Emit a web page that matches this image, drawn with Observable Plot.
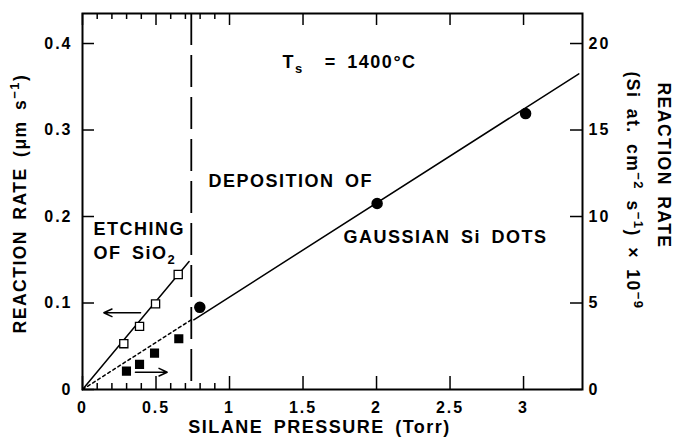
<!DOCTYPE html>
<html><head><meta charset="utf-8">
<script src="https://cdn.jsdelivr.net/npm/d3@7"></script>
<script src="https://cdn.jsdelivr.net/npm/@observablehq/plot@0.6"></script>
<style>
body{margin:0;background:#fff;}
svg{display:block}
svg text{font-family:"Liberation Sans",Arial,Helvetica,sans-serif;font-weight:bold;letter-spacing:1.5px;word-spacing:4px;fill:#000}
g[aria-label$="tick label"]{font-size:16px}
g[aria-label$="tick label"] text{letter-spacing:2px}
</style></head><body><div id="chart"></div>
<script>
// ---- data ----
const xTicks = [0, 0.5, 1, 1.5, 2, 2.5, 3];
const xMinorTicks = [0.1, 0.2, 0.3, 0.4, 0.6, 0.7, 0.8, 0.9];
const yTicks = [0, 0.1, 0.2, 0.3, 0.4];          // left axis, µm s^-1
const rightFactor = 50;                           // right axis value = left * 50 (×10^9 Si at. cm^-2 s^-1)

// etching of SiO2 (open squares, left axis)
const etchP = [0.281, 0.388, 0.497, 0.651];
const etchRate = [0.053, 0.073, 0.099, 0.133];
// filled squares (right axis units)
const fillP = [0.299, 0.388, 0.49, 0.655];
const fillRate = [1.06, 1.45, 2.10, 2.93];
// deposition of Gaussian Si dots (filled circles, left axis)
const depP = [0.798, 2.004, 3.014];
const depRate = [0.095, 0.215, 0.319];
// fitted lines
const etchFitP = [0, 0.725], etchFitRate = [0, 0.148];
const dotFitP = [0, 0.74], dotFitRate = [0, 0.0806];
const depFitP = [0.757, 3.376], depFitRate = [0.0806, 0.365];
const boundaryP = [0.74];
// arrows
const arrowFromP = [0.395, 0.36], arrowToP = [0.145, 0.576], arrowRate = [0.0887, 0.020];
// annotation texts and their anchor values
const noteText = ["T_{s}  = 1400°C", "DEPOSITION OF", "GAUSSIAN Si DOTS", "ETCHING", "OF SiO_{2}"];
const noteP = [1.361, 0.857, 1.776, 0.075, 0.075];
const noteRate = [0.378, 0.2405, 0.1757, 0.185, 0.157];
const yLabel = "REACTION RATE (μm s^{−1})";
const yLabelRight1 = "REACTION RATE";
const yLabelRight2 = "(Si at. cm^{−2} s^{−1}) × 10^{−9}";
const xLabel = "SILANE PRESSURE (Torr)";

// ---- tables ----
const tbl = (a, b) => a.map((p, i) => ({p, r: b[i]}));
const etch = tbl(etchP, etchRate);
const fill = tbl(fillP, fillRate.map(v => v / rightFactor));
const dep = tbl(depP, depRate);
const arrows = arrowFromP.map((p, i) => ({x1: p, x2: arrowToP[i], y: arrowRate[i]}));
const notes = noteText.map((t, i) => ({t, p: noteP[i], r: noteRate[i]}));

const W = 675, H = 444, mL = 82, mR = 93, mT = 13, mB = 55;
const iW = W - mL - mR, iH = H - mT - mB;

const chart = Plot.plot({
  width: W, height: H,
  marginLeft: mL, marginRight: mR, marginTop: mT, marginBottom: mB,
  x: {domain: [0, 3.401], axis: null},
  y: {domain: [0, 0.4347], axis: null},
  style: {background: "#fff", color: "#000"},
  marks: [
    Plot.frame({stroke: "#000", strokeWidth: 2}),
    // inward ticks
    Plot.ruleY(yTicks, {y: d => d, insetRight: iW - 12, strokeWidth: 1.5}),
    Plot.ruleY(yTicks, {y: d => d, insetLeft: iW - 12, strokeWidth: 1.5}),
    Plot.ruleX(xTicks, {x: d => d, insetTop: iH - 13, strokeWidth: 1.5}),
    Plot.ruleX(xMinorTicks, {x: d => d, insetTop: iH - 6, strokeWidth: 1.5}),
    Plot.ruleX(xTicks, {x: d => d, insetBottom: iH - 12, strokeWidth: 1.5}),
    Plot.ruleX(xMinorTicks, {x: d => d, insetBottom: iH - 6, strokeWidth: 1.5}),
    // tick labels
    Plot.axisY({anchor: "left", ticks: yTicks, tickSize: 0, tickPadding: 10, label: null, fontSize: 16,
      tickFormat: d => d === 0 ? "0" : d.toFixed(1)}),
    Plot.axisY({anchor: "right", ticks: yTicks, tickSize: 0, tickPadding: 6, label: null, fontSize: 16,
      tickFormat: d => String(Math.round(d * rightFactor))}),
    Plot.axisX({anchor: "bottom", ticks: xTicks, tickSize: 0, tickPadding: 12, label: null, fontSize: 16,
      tickFormat: d => String(d)}),
    // boundary
    Plot.ruleX(boundaryP, {x: d => d, stroke: "#000", strokeWidth: 1.8, strokeDasharray: "32,10"}),
    // fit lines
    Plot.line(tbl(etchFitP, etchFitRate), {x: "p", y: "r", stroke: "#000", strokeWidth: 1.5}),
    Plot.line(tbl(dotFitP, dotFitRate), {x: "p", y: "r", stroke: "#000", strokeWidth: 1.5, strokeDasharray: "3,3"}),
    Plot.line(tbl(depFitP, depFitRate), {x: "p", y: "r", stroke: "#000", strokeWidth: 1.5}),
    // points
    Plot.dot(etch, {x: "p", y: "r", symbol: "square", r: 4.6, fill: "#fff", stroke: "#000", strokeWidth: 1.3}),
    Plot.dot(fill, {x: "p", y: "r", symbol: "square", r: 4.3, fill: "#000", stroke: "#000"}),
    Plot.dot(dep, {x: "p", y: "r", r: 5, fill: "#000", stroke: "#000"}),
    // arrows
    Plot.arrow(arrows, {x1: "x1", x2: "x2", y1: "y", y2: "y", stroke: "#000", strokeWidth: 1.5, headLength: 9, headAngle: 50}),
    // annotations
    Plot.text(notes, {x: "p", y: "r", text: "t", textAnchor: "start", lineAnchor: "middle", fontSize: 18, fill: "#000"}),
    // axis titles
    Plot.text([yLabel], {frameAnchor: "left", dx: -62, dy: 2, rotate: -90, textAnchor: "middle", lineAnchor: "middle", fontSize: 17.5, fill: "#000"}),
    Plot.text([yLabelRight1], {frameAnchor: "right", dx: 81, dy: -36, rotate: 90, textAnchor: "middle", lineAnchor: "middle", fontSize: 17.5, fill: "#000"}),
    Plot.text([yLabelRight2], {frameAnchor: "right", dx: 50, dy: -11, rotate: 90, textAnchor: "middle", lineAnchor: "middle", fontSize: 17.5, fill: "#000"}),
    Plot.text([xLabel], {frameAnchor: "bottom", dx: -13, dy: 38, textAnchor: "middle", lineAnchor: "middle", fontSize: 18, fill: "#000"})
  ]
});

// superscripts / subscripts
chart.querySelectorAll("text").forEach(t => {
  const s = t.textContent;
  if (!/[\^_]\{/.test(s)) return;
  const parts = s.split(/([\^_]\{[^}]*\})/).filter(p => p.length);
  while (t.firstChild) t.removeChild(t.firstChild);
  let shift = 0;
  for (const p of parts) {
    const ts = document.createElementNS("http://www.w3.org/2000/svg", "tspan");
    let target = 0, txt = p, small = false;
    if (p.startsWith("^{")) { target = -7; txt = p.slice(2, -1); small = true; }
    else if (p.startsWith("_{")) { target = 5; txt = p.slice(2, -1); small = true; }
    const d = target - shift;
    if (d) ts.setAttribute("dy", d);
    shift = target;
    if (small) ts.setAttribute("font-size", "13");
    ts.textContent = txt;
    t.appendChild(ts);
  }
});

document.getElementById("chart").appendChild(chart);
</script></body></html>
